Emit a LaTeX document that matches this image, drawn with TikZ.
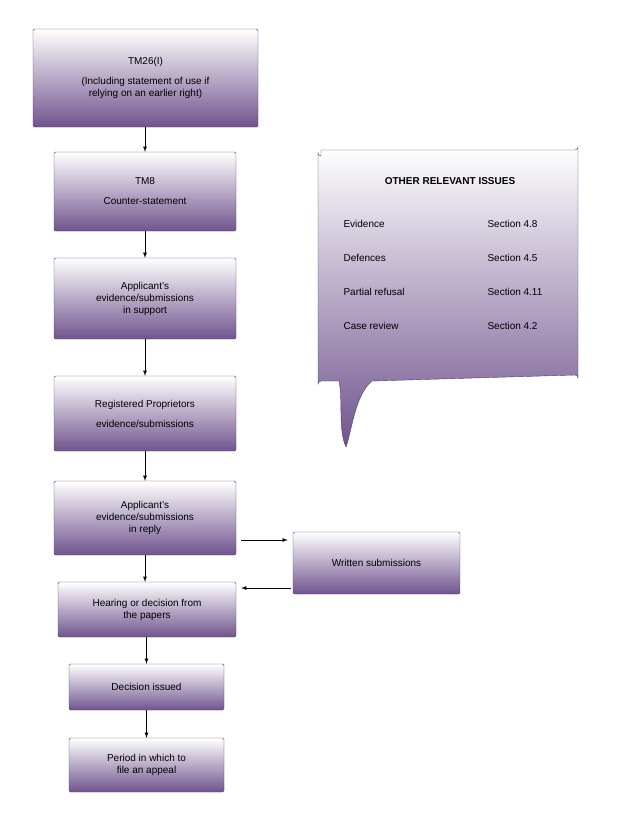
\documentclass[tikz,border=0pt]{standalone}
\usepackage{fontspec}
\setmainfont{Liberation Sans}
\usetikzlibrary{calc}
\definecolor{plum}{RGB}{112,84,142}
\definecolor{edge}{RGB}{84,60,110}
\tikzset{
  box/.style={draw=edge, rounded corners=1.5pt, top color=white, bottom color=plum,
    align=center, font=\fontsize{10}{12}\selectfont, inner sep=0pt},
  arr/.style={-latex, thick}
}
\begin{document}
\begin{tikzpicture}[x=1pt,y=-1pt]
		\useasboundingbox (0,0) rectangle (640,825);
		% flow boxes
		\node[box, minimum width=225, minimum height=98] (tm26) at (145.5,78)
		  {TM26(I)\\[8pt](Including statement of use if\\relying on an earlier right)};
		\node[box, minimum width=182, minimum height=79] (tm8) at (145,191.5)
		  {TM8\\[8pt]Counter-statement};
		\node[box, minimum width=182, minimum height=81] (support) at (145,298.5)
		  {Applicant's\\evidence/submissions\\in support};
		\node[box, minimum width=182, minimum height=75] (proprietor) at (145,413.5)
		  {Registered Proprietors\\[8pt]evidence/submissions};
		\node[box, minimum width=182, minimum height=74] (reply) at (145,518)
		  {Applicant's\\evidence/submissions\\in reply};
		\node[box, minimum width=167, minimum height=62] (written) at (376.5,563)
		  {Written submissions};
		\node[box, minimum width=178, minimum height=55] (hearing) at (147,609.5)
		  {Hearing or decision from\\the papers};
		\node[box, minimum width=155, minimum height=46] (issued) at (146.5,687)
		  {Decision issued};
		\node[box, minimum width=155, minimum height=54] (appeal) at (146.5,765)
		  {Period in which to\\file an appeal};

		% arrows
		\draw[arr] (tm26.south -| tm8.south) -- (tm8.north);
		\draw[arr] (tm8) -- (support);
		\draw[arr] (support) -- (proprietor);
		\draw[arr] (proprietor) -- (reply);
		\draw[arr] (reply.south) -- (reply.south |- hearing.north);
		\draw[arr] (hearing.south -| issued.north) -- (issued.north);
		\draw[arr] (issued) -- (appeal);
		\draw[arr] ($(reply.east)+(5,22)$) -- ($(written.west)+(-5,-23)$);
		\draw[arr] ($(written.west)+(-2,25)$) -- ($(hearing.east)+(5,-21.5)$);

		% callout
		\draw[draw=edge, top color=white, bottom color=plum]
		  (321,150) -- (575,150) arc[start angle=90, end angle=0, radius=3] -- (578,378)
		  arc[start angle=0, end angle=-90, radius=3] -- (372,381)
		  .. controls (355,395) and (352,430) .. (346,447)
		  .. controls (338,430) and (343,400) .. (339,381) -- (321,381)
		  arc[start angle=270, end angle=180, radius=3] -- (318,153)
		  arc[start angle=180, end angle=90, radius=3] -- cycle;
		\node[font=\fontsize{10}{12}\selectfont\bfseries] (title) at (450,181) {OTHER RELEVANT ISSUES};
		\foreach \lbl/\sec [count=\i] in {Evidence/4.8, Defences/4.5, Partial refusal/4.11, Case review/4.2} {
		  \node[anchor=west, font=\fontsize{10}{12}\selectfont] (issue\i) at (340,190+34*\i) {\lbl};
		  \node[anchor=west, font=\fontsize{10}{12}\selectfont] (sec\i) at (484,190+34*\i) {Section \sec};
		}
	\end{tikzpicture}
\end{document}
